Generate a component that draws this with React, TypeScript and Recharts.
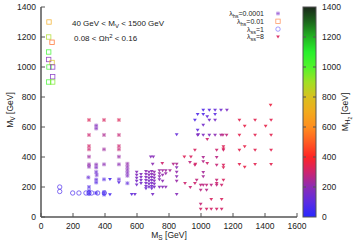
import React from 'react'
import { ScatterChart, Scatter, XAxis, YAxis } from 'recharts'

// chart size (matches the reference picture)
const WIDTH = 354
const HEIGHT = 248

const xTicks = [0, 200, 400, 600, 800, 1000, 1200, 1400, 1600]
const yTicks = [0, 200, 400, 600, 800, 1000, 1200, 1400]
const cbTicks = [0, 200, 400, 600, 800, 1000, 1200, 1400]

// each point: [M_S, M_V, M_H2]
const lhs0001: number[][] = [
  [300, 647, 330], [300, 547, 300], [300, 473, 310], [300, 451, 300], [300, 402, 230],
  [300, 351, 210], [300, 335, 200], [296, 264, 120], [300, 200, 80], [300, 175, 60], [300, 155, 50],
  [345, 610, 180], [345, 590, 180], [345, 350, 190], [345, 330, 170], [345, 300, 130],
  [348, 280, 140], [345, 250, 110], [345, 230, 90], [345, 160, 60],
  [394, 647, 320], [394, 547, 250], [394, 451, 230], [394, 351, 200], [394, 251, 90],
  [394, 165, 60], [394, 150, 50],
  [487, 647, 330], [487, 547, 290], [487, 473, 300], [487, 451, 290], [487, 402, 220],
  [487, 351, 200], [487, 251, 120],
  [540, 355, 210], [540, 335, 200], [540, 315, 190], [540, 295, 180], [540, 275, 170], [540, 225, 110],
]

const lhs001: number[][] = [
  [50, 1300, 700], [48, 1200, 880], [69, 1165, 520], [48, 1100, 1060], [48, 1050, 190],
  [69, 1030, 780], [50, 1000, 1050], [73, 1000, 170], [73, 935, 170], [48, 900, 1040], [73, 900, 950],
]

const lss1: number[][] = [
  [117, 200, 70], [117, 170, 70], [198, 160, 60], [237, 160, 60], [281, 160, 60],
  [300, 160, 60], [317, 160, 60], [354, 160, 60], [396, 160, 60],
]

const lss8: number[][] = [
  // dense block
  [598, 300, 190], [598, 280, 180], [598, 260, 170], [598, 240, 160], [598, 215, 150],
  [625, 285, 180], [625, 265, 170], [625, 245, 160], [625, 225, 150],
  [656, 305, 200], [656, 285, 190], [656, 265, 180], [656, 245, 170], [656, 225, 160], [656, 205, 150], [656, 190, 140],
  [675, 300, 200], [675, 280, 190], [675, 260, 180], [675, 240, 170], [675, 220, 160], [675, 200, 150],
  [692, 305, 200], [692, 285, 190], [692, 265, 180], [692, 245, 170], [692, 225, 160], [692, 205, 150], [692, 190, 140],
  [708, 300, 210], [708, 280, 200], [708, 260, 190], [708, 240, 180], [708, 220, 170], [708, 200, 160],
  [740, 310, 220], [740, 290, 210], [740, 270, 200], [740, 250, 190], [740, 200, 180],
  [760, 310, 230], [760, 280, 210], [760, 240, 200], [760, 200, 190],
  [780, 310, 230], [780, 290, 220], [780, 200, 200], [806, 310, 240],
  // around 600-1000 GeV
  [431, 251, 60], [431, 150, 60], [487, 229, 100], [567, 151, 110], [587, 151, 130],
  [698, 151, 160], [848, 151, 190], [848, 549, 120], [983, 549, 170],
  [686, 402, 190], [702, 402, 190], [896, 402, 330], [937, 402, 320],
  [698, 353, 200], [758, 358, 300], [827, 353, 260], [848, 353, 250], [931, 365, 280], [965, 353, 320],
  [848, 330, 200], [848, 300, 210], [848, 270, 200], [848, 240, 220],
  [900, 224, 300], [933, 198, 290], [962, 224, 300],
  // upper region 1000-1200 GeV
  [1014, 713, 80], [1052, 713, 100], [1088, 713, 120], [1125, 713, 140], [1162, 713, 170],
  [979, 684, 80], [1014, 684, 80], [1088, 684, 100], [1039, 669, 120],
  [962, 647, 80], [1052, 647, 150], [1088, 647, 160],
  [1014, 613, 150], [979, 580, 110],
  [979, 547, 170], [1014, 547, 170], [1052, 547, 180], [1088, 547, 200], [1125, 547, 250],
  [1137, 547, 270], [1160, 547, 280], [1039, 518, 300],
  [1140, 469, 330], [1140, 455, 330],
  [962, 447, 320], [1098, 447, 300], [1140, 447, 310],
  [1014, 398, 250], [1098, 398, 270], [1014, 369, 260], [1039, 358, 300],
  [962, 347, 300], [1098, 347, 290], [1140, 347, 320], [1140, 329, 330],
  [1014, 298, 240], [1014, 269, 240], [973, 247, 280], [1098, 247, 290], [1140, 247, 320], [1098, 224, 300],
  [998, 213, 280], [1014, 213, 270], [1035, 213, 280], [1064, 213, 270], [1098, 213, 280], [1129, 213, 300],
  [998, 180, 270], [1035, 180, 260], [1064, 118, 320], [1129, 118, 320], [998, 87, 290],
  [998, 53, 310], [1035, 53, 310], [1064, 53, 310], [1098, 53, 310], [1129, 53, 310],
  // right grid
  [1435, 747, 360], [1240, 647, 340], [1338, 647, 340], [1438, 647, 340],
  [1273, 607, 350], [1404, 607, 350],
  [1240, 547, 340], [1338, 547, 340], [1438, 547, 340],
  [1273, 469, 350], [1240, 447, 340], [1338, 447, 340], [1438, 447, 340],
  [1240, 351, 340], [1273, 333, 350], [1338, 351, 340], [1438, 351, 340],
]

const legendLabels = [
  { sym: 'hs', val: '0.0001', kind: 'star', color: '#8c46d2' },
  { sym: 'hs', val: '0.01', kind: 'square', color: '#ff8a50' },
  { sym: 'ss', val: '1', kind: 'circle', color: '#7a6cff' },
  { sym: 'ss', val: '8', kind: 'tri', color: '#d8205a' },
]

// colour map for M_H2 (gnuplot-like palette)
const PALETTE: [number, number[]][] = [
  [0, [40, 40, 255]],
  [100, [92, 44, 226]],
  [200, [140, 44, 180]],
  [300, [206, 36, 110]],
  [400, [255, 36, 36]],
  [500, [255, 92, 34]],
  [600, [255, 142, 30]],
  [700, [242, 170, 30]],
  [800, [216, 192, 30]],
  [900, [160, 224, 36]],
  [1000, [80, 244, 44]],
  [1100, [40, 240, 44]],
  [1200, [34, 180, 34]],
  [1300, [28, 104, 28]],
  [1400, [26, 40, 26]],
]

function colorFor(v: number) {
  for (let i = 0; i < PALETTE.length - 1; i++) {
    const [a, ca] = PALETTE[i]
    const [b, cb] = PALETTE[i + 1]
    if (v <= b) {
      const t = Math.max(0, (v - a) / (b - a))
      const c = ca.map((x, k) => Math.round(x + (cb[k] - x) * t))
      return `rgb(${c[0]},${c[1]},${c[2]})`
    }
  }
  const c = PALETTE[PALETTE.length - 1][1]
  return `rgb(${c[0]},${c[1]},${c[2]})`
}

const toPoints = (rows: number[][]) => rows.map(([ms, mv, mh]) => ({ ms, mv, mh }))

const FONT = '"Liberation Sans", Arial, sans-serif'
const TEXT = '#222'
const AXIS = '#555'

function Marker({ kind, cx, cy, color }: { kind: string; cx: number; cy: number; color: string }) {
  if (kind === 'star') {
    return (
      <g stroke={color} strokeWidth={0.6} opacity={0.85}>
        <rect x={cx - 2} y={cy - 2} width={4} height={4} fill={color} fillOpacity={0.25} stroke="none" />
        <line x1={cx - 1.8} x2={cx + 1.8} y1={cy} y2={cy} />
        <line x1={cx} x2={cx} y1={cy - 1.8} y2={cy + 1.8} />
        <line x1={cx - 1.4} x2={cx + 1.4} y1={cy - 1.4} y2={cy + 1.4} />
        <line x1={cx - 1.4} x2={cx + 1.4} y1={cy + 1.4} y2={cy - 1.4} />
      </g>
    )
  }
  if (kind === 'square') {
    return (
      <rect x={cx - 2.2} y={cy - 2.2} width={4.4} height={4.4} fill="none" stroke={color} strokeWidth={0.8} opacity={0.85} />
    )
  }
  if (kind === 'circle') {
    return <circle cx={cx} cy={cy} r={2.2} fill="none" stroke={color} strokeWidth={0.8} opacity={0.85} />
  }
  return (
    <path
      d={`M${cx - 1.9},${cy - 1.3} L${cx + 1.9},${cy - 1.3} L${cx},${cy + 1.7} Z`}
      fill={color}
      opacity={0.9}
    />
  )
}

const shapeFor = (kind: string) => (p: any) => (
  <Marker kind={kind} cx={p.cx} cy={p.cy} color={colorFor(p.payload.mh)} />
)

// ticks drawn inward like gnuplot
const BottomTick = (p: any) => (
  <g>
    <line x1={p.x} x2={p.x} y1={p.y} y2={p.y - 4} stroke={AXIS} />
    <text x={p.x} y={p.y + 12} textAnchor="middle" fontSize={8.5} fill={TEXT} fontFamily={FONT}>
      {p.payload.value}
    </text>
  </g>
)
const TopTick = (p: any) => <line x1={p.x} x2={p.x} y1={p.y} y2={p.y + 4} stroke={AXIS} />
const LeftTick = (p: any) => (
  <g>
    <line x1={p.x} x2={p.x + 4} y1={p.y} y2={p.y} stroke={AXIS} />
    <text x={p.x - 5} y={p.y + 3} textAnchor="end" fontSize={8.5} fill={TEXT} fontFamily={FONT}>
      {p.payload.value}
    </text>
  </g>
)
const RightTick = (p: any) => <line x1={p.x} x2={p.x - 4} y1={p.y} y2={p.y} stroke={AXIS} />

// colour bar geometry
const CB = { x: 303, y: 7, w: 13, h: 210, max: 1400 }

function Overlay() {
  const cbY = (v: number) => CB.y + CB.h - (v / CB.max) * CB.h
  return (
    <svg width={WIDTH} height={HEIGHT} style={{ position: 'absolute', left: 0, top: 0, pointerEvents: 'none' }}>
      <defs>
        <linearGradient id="cbgrad" x1="0" y1="1" x2="0" y2="0">
          {PALETTE.map(([v]) => (
            <stop key={v} offset={`${(v / CB.max) * 100}%`} stopColor={colorFor(v)} />
          ))}
        </linearGradient>
      </defs>
      <g fontFamily={FONT} fill={TEXT}>
        {/* annotations */}
        <text x={72} y={25.5} fontSize={8}>
          40 GeV &lt; M<tspan dy={2} fontSize={6}>V</tspan>
          <tspan dy={-2}> &lt; 1500 GeV</tspan>
        </text>
        <text x={74} y={40.5} fontSize={8}>
          0.08 &lt; Ωh<tspan dy={-3} fontSize={6}>2</tspan>
          <tspan dy={3}> &lt; 0.16</tspan>
        </text>
        {/* legend */}
        {legendLabels.map((l, i) => {
          const cy = 13.5 + i * 7.8
          return (
            <g key={i}>
              <text x={264} y={cy + 2.5} fontSize={7} textAnchor="end">
                λ<tspan dy={2} fontSize={5.5}>{l.sym}</tspan>
                <tspan dy={-2}>={l.val}</tspan>
              </text>
              <Marker kind={l.kind} cx={278} cy={cy} color={l.color} />
            </g>
          )
        })}
        {/* axis titles */}
        <text x={169} y={238} fontSize={8.5} textAnchor="middle">
          M<tspan dy={2} fontSize={6.5}>S</tspan>
          <tspan dy={-2}> [GeV]</tspan>
        </text>
        <text x={0} y={0} fontSize={8.5} textAnchor="middle" transform="translate(13,110) rotate(-90)">
          M<tspan dy={2} fontSize={6.5}>V</tspan>
          <tspan dy={-2}> [GeV]</tspan>
        </text>
        {/* colour bar */}
        <rect x={CB.x} y={CB.y} width={CB.w} height={CB.h} fill="url(#cbgrad)" stroke={AXIS} strokeWidth={1} />
        {cbTicks.map((v) => (
          <g key={v}>
            {v > 0 && v < CB.max && (
              <>
                <line x1={CB.x} x2={CB.x + 3} y1={cbY(v)} y2={cbY(v)} stroke={AXIS} />
                <line x1={CB.x + CB.w} x2={CB.x + CB.w - 3} y1={cbY(v)} y2={cbY(v)} stroke={AXIS} />
              </>
            )}
            <text x={322} y={cbY(v) + 3} fontSize={8.5}>
              {v}
            </text>
          </g>
        ))}
        <text x={0} y={0} fontSize={8.5} textAnchor="middle" transform="translate(348,112) rotate(-90)">
          M<tspan dy={2} fontSize={6.5}>H</tspan>
          <tspan dy={1.5} fontSize={5}>2</tspan>
          <tspan dy={-3.5}> [GeV]</tspan>
        </text>
      </g>
    </svg>
  )
}

export default function App() {
  return (
    <div style={{ position: 'absolute', left: 0, top: 0, width: WIDTH, height: HEIGHT, background: '#fff' }}>
      <ScatterChart width={WIDTH} height={HEIGHT} margin={{ top: 7, right: 57, bottom: 0, left: 0 }}>
        <XAxis
          type="number"
          dataKey="ms"
          domain={[0, 1600]}
          ticks={xTicks}
          interval={0}
          height={31}
          tickSize={0}
          tickMargin={0}
          tick={BottomTick}
          axisLine={{ stroke: AXIS, strokeWidth: 1.5 }}
          allowDataOverflow
        />
        <XAxis
          xAxisId="top"
          orientation="top"
          type="number"
          dataKey="ms"
          domain={[0, 1600]}
          ticks={xTicks}
          interval={0}
          height={0}
          tickSize={0}
          tickMargin={0}
          tick={TopTick}
          axisLine={{ stroke: AXIS, strokeWidth: 1 }}
          allowDataOverflow
        />
        <YAxis
          type="number"
          dataKey="mv"
          domain={[0, 1400]}
          ticks={yTicks}
          interval={0}
          width={41}
          tickSize={0}
          tickMargin={0}
          tick={LeftTick}
          axisLine={{ stroke: AXIS, strokeWidth: 1.5 }}
          allowDataOverflow
        />
        <YAxis
          yAxisId="right"
          orientation="right"
          type="number"
          dataKey="mv"
          domain={[0, 1400]}
          ticks={yTicks}
          interval={0}
          width={0}
          tickSize={0}
          tickMargin={0}
          tick={RightTick}
          axisLine={{ stroke: AXIS, strokeWidth: 1.5 }}
          allowDataOverflow
        />
        <Scatter data={toPoints(lss1)} shape={shapeFor('circle')} isAnimationActive={false} />
        <Scatter data={toPoints(lhs001)} shape={shapeFor('square')} isAnimationActive={false} />
        <Scatter data={toPoints(lhs0001)} shape={shapeFor('star')} isAnimationActive={false} />
        <Scatter data={toPoints(lss8)} shape={shapeFor('tri')} isAnimationActive={false} />
      </ScatterChart>
      <Overlay />
    </div>
  )
}
